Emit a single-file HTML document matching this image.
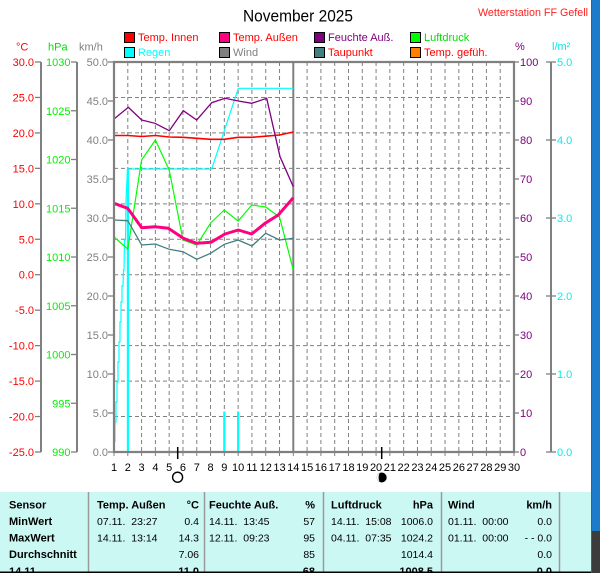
<!DOCTYPE html>
<html><head><meta charset="utf-8"><style>
html,body{margin:0;padding:0;background:#fff;}
svg{display:block;}
text{font-family:"Liberation Sans",Arial,sans-serif;}
</style></head><body>
<svg width="600" height="573" viewBox="0 0 600 573" xmlns="http://www.w3.org/2000/svg">
<rect x="0" y="0" width="600" height="573" fill="#fff"/>

<!-- Title -->
<text x="243" y="21.5" font-size="17" fill="#000" textLength="110" lengthAdjust="spacingAndGlyphs">November 2025</text>
<text x="478" y="16" font-size="11" fill="#ff2020" textLength="110" lengthAdjust="spacingAndGlyphs">Wetterstation FF Gefell</text>

<!-- Legend -->
<g font-size="11">
<rect x="124.5" y="32.5" width="10" height="10" fill="#ff0000" stroke="#000"/>
<text x="138" y="41" fill="#ff0000">Temp. Innen</text>
<rect x="124.5" y="47.5" width="10" height="10" fill="#00ffff" stroke="#000"/>
<text x="138" y="56" fill="#00ffff">Regen</text>
<rect x="219.5" y="32.5" width="10" height="10" fill="#ff0080" stroke="#000"/>
<text x="233" y="41" fill="#ff0000">Temp. Außen</text>
<rect x="219.5" y="47.5" width="10" height="10" fill="#808080" stroke="#000"/>
<text x="233" y="56" fill="#808080">Wind</text>
<rect x="314.5" y="32.5" width="10" height="10" fill="#800080" stroke="#000"/>
<text x="328" y="41" fill="#800080">Feuchte Auß.</text>
<rect x="314.5" y="47.5" width="10" height="10" fill="#408080" stroke="#000"/>
<text x="328" y="56" fill="#ff0000">Taupunkt</text>
<rect x="410.5" y="32.5" width="10" height="10" fill="#00ff00" stroke="#000"/>
<text x="424" y="41" fill="#00e000">Luftdruck</text>
<rect x="410.5" y="47.5" width="10" height="10" fill="#ff8000" stroke="#000"/>
<text x="424" y="56" fill="#ff0000">Temp. gefüh.</text>
</g>

<!-- Axis titles -->
<g font-size="11">
<text x="16" y="50.5" fill="#ff0000">°C</text>
<text x="48" y="50.5" fill="#00e000">hPa</text>
<text x="79" y="50.5" fill="#808080">km/h</text>
<text x="515" y="50" fill="#800080">%</text>
<text x="552" y="50" fill="#00e8e8">l/m²</text>
</g>

<!-- Left axes lines -->
<g stroke="#808080" stroke-width="2" fill="none">
<line x1="41" y1="62" x2="41" y2="452"/>
<line x1="77" y1="62" x2="77" y2="452"/>
<line x1="551" y1="62" x2="551" y2="452"/>
</g>
<g stroke="#808080" stroke-width="1.3">
<line x1="35" y1="62" x2="41" y2="62"/><line x1="35" y1="97.45" x2="41" y2="97.45"/>
<line x1="35" y1="132.91" x2="41" y2="132.91"/><line x1="35" y1="168.36" x2="41" y2="168.36"/>
<line x1="35" y1="203.82" x2="41" y2="203.82"/><line x1="35" y1="239.27" x2="41" y2="239.27"/>
<line x1="35" y1="274.73" x2="41" y2="274.73"/><line x1="35" y1="310.18" x2="41" y2="310.18"/>
<line x1="35" y1="345.64" x2="41" y2="345.64"/><line x1="35" y1="381.09" x2="41" y2="381.09"/>
<line x1="35" y1="416.55" x2="41" y2="416.55"/><line x1="35" y1="452" x2="41" y2="452"/>
<line x1="71" y1="62" x2="77" y2="62"/><line x1="71" y1="110.75" x2="77" y2="110.75"/>
<line x1="71" y1="159.5" x2="77" y2="159.5"/><line x1="71" y1="208.25" x2="77" y2="208.25"/>
<line x1="71" y1="257" x2="77" y2="257"/><line x1="71" y1="305.75" x2="77" y2="305.75"/>
<line x1="71" y1="354.5" x2="77" y2="354.5"/><line x1="71" y1="403.25" x2="77" y2="403.25"/>
<line x1="71" y1="452" x2="77" y2="452"/>
<line x1="108" y1="62" x2="114" y2="62"/><line x1="108" y1="101" x2="114" y2="101"/>
<line x1="108" y1="140" x2="114" y2="140"/><line x1="108" y1="179" x2="114" y2="179"/>
<line x1="108" y1="218" x2="114" y2="218"/><line x1="108" y1="257" x2="114" y2="257"/>
<line x1="108" y1="296" x2="114" y2="296"/><line x1="108" y1="335" x2="114" y2="335"/>
<line x1="108" y1="374" x2="114" y2="374"/><line x1="108" y1="413" x2="114" y2="413"/>
<line x1="108" y1="452" x2="114" y2="452"/>
<line x1="514" y1="62" x2="519" y2="62"/><line x1="514" y1="101" x2="519" y2="101"/>
<line x1="514" y1="140" x2="519" y2="140"/><line x1="514" y1="179" x2="519" y2="179"/>
<line x1="514" y1="218" x2="519" y2="218"/><line x1="514" y1="257" x2="519" y2="257"/>
<line x1="514" y1="296" x2="519" y2="296"/><line x1="514" y1="335" x2="519" y2="335"/>
<line x1="514" y1="374" x2="519" y2="374"/><line x1="514" y1="413" x2="519" y2="413"/>
<line x1="514" y1="452" x2="519" y2="452"/>
<line x1="546" y1="62" x2="556" y2="62"/><line x1="546" y1="140" x2="556" y2="140"/>
<line x1="546" y1="218" x2="556" y2="218"/><line x1="546" y1="296" x2="556" y2="296"/>
<line x1="546" y1="374" x2="556" y2="374"/><line x1="546" y1="452" x2="556" y2="452"/>
</g>

<!-- Left axis labels -->
<g font-size="11" fill="#ff0000" text-anchor="end">
<text x="34" y="66">30.0</text><text x="34" y="101.5">25.0</text><text x="34" y="137">20.0</text>
<text x="34" y="172.4">15.0</text><text x="34" y="207.8">10.0</text><text x="34" y="243.3">5.0</text>
<text x="34" y="278.7">0.0</text><text x="34" y="314.2">-5.0</text><text x="34" y="349.6">-10.0</text>
<text x="34" y="385.1">-15.0</text><text x="34" y="420.5">-20.0</text><text x="34" y="456">-25.0</text>
</g>
<g font-size="11" fill="#00f000" text-anchor="end">
<text x="70.5" y="66">1030</text><text x="70.5" y="114.8">1025</text><text x="70.5" y="163.5">1020</text>
<text x="70.5" y="212.3">1015</text><text x="70.5" y="261">1010</text><text x="70.5" y="309.8">1005</text>
<text x="70.5" y="358.5">1000</text><text x="70.5" y="407.3">995</text><text x="70.5" y="456">990</text>
</g>
<g font-size="11" fill="#808080" text-anchor="end">
<text x="108" y="66">50.0</text><text x="108" y="105">45.0</text><text x="108" y="144">40.0</text>
<text x="108" y="183">35.0</text><text x="108" y="222">30.0</text><text x="108" y="261">25.0</text>
<text x="108" y="300">20.0</text><text x="108" y="339">15.0</text><text x="108" y="378">10.0</text>
<text x="108" y="417">5.0</text><text x="108" y="456">0.0</text>
</g>
<g font-size="11" fill="#800080">
<text x="520" y="66">100</text><text x="520" y="105">90</text><text x="520" y="144">80</text>
<text x="520" y="183">70</text><text x="520" y="222">60</text><text x="520" y="261">50</text>
<text x="520" y="300">40</text><text x="520" y="339">30</text><text x="520" y="378">20</text>
<text x="520" y="417">10</text><text x="520" y="456">0</text>
</g>
<g font-size="11" fill="#00f0f0">
<text x="557" y="66">5.0</text><text x="557" y="144">4.0</text><text x="557" y="222">3.0</text>
<text x="557" y="300">2.0</text><text x="557" y="378">1.0</text><text x="557" y="456">0.0</text>
</g>

<!-- Grid -->
<g stroke="#808080" stroke-width="1" stroke-dasharray="4,3" fill="none">
<line x1="114" y1="97.45" x2="514" y2="97.45"/><line x1="114" y1="132.91" x2="514" y2="132.91"/>
<line x1="114" y1="168.36" x2="514" y2="168.36"/><line x1="114" y1="203.82" x2="514" y2="203.82"/>
<line x1="114" y1="239.27" x2="514" y2="239.27"/><line x1="114" y1="274.73" x2="514" y2="274.73"/>
<line x1="114" y1="310.18" x2="514" y2="310.18"/><line x1="114" y1="345.64" x2="514" y2="345.64"/>
<line x1="114" y1="381.09" x2="514" y2="381.09"/><line x1="114" y1="416.55" x2="514" y2="416.55"/>
<line x1="127.79" y1="62" x2="127.79" y2="452"/><line x1="141.59" y1="62" x2="141.59" y2="452"/>
<line x1="155.38" y1="62" x2="155.38" y2="452"/><line x1="169.17" y1="62" x2="169.17" y2="452"/>
<line x1="182.97" y1="62" x2="182.97" y2="452"/><line x1="196.76" y1="62" x2="196.76" y2="452"/>
<line x1="210.55" y1="62" x2="210.55" y2="452"/><line x1="224.34" y1="62" x2="224.34" y2="452"/>
<line x1="238.14" y1="62" x2="238.14" y2="452"/><line x1="251.93" y1="62" x2="251.93" y2="452"/>
<line x1="265.72" y1="62" x2="265.72" y2="452"/><line x1="279.52" y1="62" x2="279.52" y2="452"/>
<line x1="307.10" y1="62" x2="307.10" y2="452"/><line x1="320.90" y1="62" x2="320.90" y2="452"/>
<line x1="334.69" y1="62" x2="334.69" y2="452"/><line x1="348.48" y1="62" x2="348.48" y2="452"/>
<line x1="362.28" y1="62" x2="362.28" y2="452"/><line x1="376.07" y1="62" x2="376.07" y2="452"/>
<line x1="389.86" y1="62" x2="389.86" y2="452"/><line x1="403.66" y1="62" x2="403.66" y2="452"/>
<line x1="417.45" y1="62" x2="417.45" y2="452"/><line x1="431.24" y1="62" x2="431.24" y2="452"/>
<line x1="445.03" y1="62" x2="445.03" y2="452"/><line x1="458.83" y1="62" x2="458.83" y2="452"/>
<line x1="472.62" y1="62" x2="472.62" y2="452"/><line x1="486.41" y1="62" x2="486.41" y2="452"/>
<line x1="500.21" y1="62" x2="500.21" y2="452"/>
</g>
<line x1="293.3" y1="62" x2="293.3" y2="452" stroke="#808080" stroke-width="2"/>

<!-- Rain bars -->
<g fill="#00ffff">
<rect x="126.8" y="169" width="2.2" height="283"/>
<rect x="223.2" y="411.5" width="2.2" height="40.5"/>
<rect x="237" y="411.5" width="2.2" height="40.5"/>
</g>
<polyline fill="none" stroke="#00ffff" stroke-width="1.2" points="114,452 114.3,441 115,441 115,422 116,422 116,402 117,402 117,382 118,382 118,362 119,362 119,342 120,342 120,322 121,322 121,302 122,302 122,286 123,286 123.5,270 124,270 124.5,240 125.5,240 126,200 127.5,169 211.7,169 238.3,88.3 293.3,88.3"/>

<polyline fill="none" stroke="#00ff00" stroke-width="1.2" points="114,237 127.8,249 141.6,160 155.4,140 169.2,170 183,240 196.8,245 210.6,223 224.3,210 238.1,221 251.9,205 265.7,207 279.5,217 293.3,270"/>
<polyline fill="none" stroke="#408080" stroke-width="1.3" points="114,220 127.8,220.7 141.6,245 155.4,244 169.2,249.3 183,251.7 196.8,259.3 210.6,253.3 224.3,244.3 238.1,240 251.9,246 265.7,233.3 279.5,240 293.3,238.3"/>
<polyline fill="none" stroke="#ff0000" stroke-width="1.6" points="114,135.5 127.8,135.5 141.6,136.5 155.4,135.5 169.2,137 183,137.3 196.8,138.3 210.6,139.3 224.3,139.3 238.1,137.3 251.9,137.3 265.7,136.2 279.5,135 293.3,132"/>
<polyline fill="none" stroke="#800080" stroke-width="1.3" points="114,119 128.3,107.3 141.7,120 155,123.3 169.3,130.7 183.3,110.7 196.7,120 211.7,102.7 225,98.3 238.3,101 251.7,103.3 266.7,98.3 280,156.7 293.3,186.7"/>
<polyline fill="none" stroke="#ff0080" stroke-width="3" stroke-linejoin="round" points="114,203.3 127.7,208.3 141.7,227.7 155,226.7 168.3,228.3 183.3,238.3 196.7,243.3 211,242.3 225,234 238.3,230 251.7,234 265,223.3 278.3,215 293.3,197.7"/>

<!-- Plot border -->
<g stroke="#808080" stroke-width="2.2" fill="none">
<line x1="114" y1="61" x2="114" y2="453"/>
<line x1="113" y1="62" x2="515" y2="62"/>
<line x1="514" y1="61" x2="514" y2="453"/>
<line x1="113" y1="452" x2="515" y2="452"/>
</g>
<g stroke="#808080" stroke-width="1">
<line x1="114" y1="452" x2="114" y2="456"/><line x1="127.79" y1="452" x2="127.79" y2="456"/>
<line x1="141.59" y1="452" x2="141.59" y2="456"/><line x1="155.38" y1="452" x2="155.38" y2="456"/>
<line x1="169.17" y1="452" x2="169.17" y2="456"/><line x1="182.97" y1="452" x2="182.97" y2="456"/>
<line x1="196.76" y1="452" x2="196.76" y2="456"/><line x1="210.55" y1="452" x2="210.55" y2="456"/>
<line x1="224.34" y1="452" x2="224.34" y2="456"/><line x1="238.14" y1="452" x2="238.14" y2="456"/>
<line x1="251.93" y1="452" x2="251.93" y2="456"/><line x1="265.72" y1="452" x2="265.72" y2="456"/>
<line x1="279.52" y1="452" x2="279.52" y2="456"/><line x1="293.31" y1="452" x2="293.31" y2="456"/>
<line x1="307.10" y1="452" x2="307.10" y2="456"/><line x1="320.90" y1="452" x2="320.90" y2="456"/>
<line x1="334.69" y1="452" x2="334.69" y2="456"/><line x1="348.48" y1="452" x2="348.48" y2="456"/>
<line x1="362.28" y1="452" x2="362.28" y2="456"/><line x1="376.07" y1="452" x2="376.07" y2="456"/>
<line x1="389.86" y1="452" x2="389.86" y2="456"/><line x1="403.66" y1="452" x2="403.66" y2="456"/>
<line x1="417.45" y1="452" x2="417.45" y2="456"/><line x1="431.24" y1="452" x2="431.24" y2="456"/>
<line x1="445.03" y1="452" x2="445.03" y2="456"/><line x1="458.83" y1="452" x2="458.83" y2="456"/>
<line x1="472.62" y1="452" x2="472.62" y2="456"/><line x1="486.41" y1="452" x2="486.41" y2="456"/>
<line x1="500.21" y1="452" x2="500.21" y2="456"/><line x1="514" y1="452" x2="514" y2="456"/>
</g>

<!-- Moon markers -->
<line x1="177.7" y1="447" x2="177.7" y2="459" stroke="#000" stroke-width="1.5"/>
<circle cx="177.6" cy="477.2" r="5" fill="none" stroke="#000" stroke-width="1.4"/>
<line x1="381.7" y1="447" x2="381.7" y2="459" stroke="#000" stroke-width="1.5"/>
<circle cx="381.7" cy="477.5" r="5" fill="#000"/>
<path d="M380.2,473.2 A4.4,4.4 0 0 0 380.2,481.8 A1.6,4.3 0 0 1 380.2,473.2 Z" fill="#fff"/>

<!-- X labels -->
<g font-size="11" fill="#000" text-anchor="middle">
<text x="114" y="471">1</text><text x="127.79" y="471">2</text><text x="141.59" y="471">3</text>
<text x="155.38" y="471">4</text><text x="169.17" y="471">5</text><text x="182.97" y="471">6</text>
<text x="196.76" y="471">7</text><text x="210.55" y="471">8</text><text x="224.34" y="471">9</text>
<text x="238.14" y="471">10</text><text x="251.93" y="471">11</text><text x="265.72" y="471">12</text>
<text x="279.52" y="471">13</text><text x="293.31" y="471">14</text><text x="307.10" y="471">15</text>
<text x="320.90" y="471">16</text><text x="334.69" y="471">17</text><text x="348.48" y="471">18</text>
<text x="362.28" y="471">19</text><text x="376.07" y="471">20</text><text x="389.86" y="471">21</text>
<text x="403.66" y="471">22</text><text x="417.45" y="471">23</text><text x="431.24" y="471">24</text>
<text x="445.03" y="471">25</text><text x="458.83" y="471">26</text><text x="472.62" y="471">27</text>
<text x="486.41" y="471">28</text><text x="500.21" y="471">29</text><text x="514" y="471">30</text>
</g>

<!-- Table -->
<rect x="0" y="492" width="592" height="81" fill="#ccf8f4"/>
<g stroke="#9a9a9a" stroke-width="1.5">
<line x1="88.5" y1="492" x2="88.5" y2="572"/>
<line x1="204.5" y1="492" x2="204.5" y2="572"/>
<line x1="323.5" y1="492" x2="323.5" y2="572"/>
<line x1="441.5" y1="492" x2="441.5" y2="572"/>
<line x1="559.5" y1="492" x2="559.5" y2="572"/>
</g>
<g font-size="11" font-weight="bold" fill="#000">
<text x="9" y="508.5">Sensor</text>
<text x="9" y="525">MinWert</text>
<text x="9" y="541.7">MaxWert</text>
<text x="9" y="558">Durchschnitt</text>
<text x="9" y="575">14.11</text>
<text x="97" y="508.5">Temp. Außen</text>
<text x="199" y="508.5" text-anchor="end">°C</text>
<text x="209" y="508.5">Feuchte Auß.</text>
<text x="315" y="508.5" text-anchor="end">%</text>
<text x="331" y="508.5">Luftdruck</text>
<text x="433" y="508.5" text-anchor="end">hPa</text>
<text x="448" y="508.5">Wind</text>
<text x="552" y="508.5" text-anchor="end">km/h</text>
<text x="199" y="575" text-anchor="end">11.0</text>
<text x="315" y="575" text-anchor="end">68</text>
<text x="433" y="575" text-anchor="end">1008.5</text>
<text x="552" y="575" text-anchor="end">0.0</text>
</g>
<g font-size="10.5" fill="#000" style="white-space:pre">
<text x="97" y="525" xml:space="preserve">07.11.  23:27</text>
<text x="199" y="525" text-anchor="end">0.4</text>
<text x="97" y="541.7" xml:space="preserve">14.11.  13:14</text>
<text x="199" y="541.7" text-anchor="end">14.3</text>
<text x="199" y="558" text-anchor="end">7.06</text>
<text x="209" y="525" xml:space="preserve">14.11.  13:45</text>
<text x="315" y="525" text-anchor="end">57</text>
<text x="209" y="541.7" xml:space="preserve">12.11.  09:23</text>
<text x="315" y="541.7" text-anchor="end">95</text>
<text x="315" y="558" text-anchor="end">85</text>
<text x="331" y="525" xml:space="preserve">14.11.  15:08</text>
<text x="433" y="525" text-anchor="end">1006.0</text>
<text x="331" y="541.7" xml:space="preserve">04.11.  07:35</text>
<text x="433" y="541.7" text-anchor="end">1024.2</text>
<text x="433" y="558" text-anchor="end">1014.4</text>
<text x="448" y="525" xml:space="preserve">01.11.  00:00</text>
<text x="552" y="525" text-anchor="end">0.0</text>
<text x="448" y="541.7" xml:space="preserve">01.11.  00:00</text>
<text x="552" y="541.7" text-anchor="end" xml:space="preserve">- - 0.0</text>
<text x="552" y="558" text-anchor="end">0.0</text>
</g>
<rect x="0" y="571.5" width="592" height="1.5" fill="#000"/>

<!-- Right blue bar -->
<rect x="592" y="0" width="8" height="531" fill="#1d7bcc"/>
<rect x="591" y="0" width="1" height="573" fill="#3d5f80"/>
<rect x="592" y="531" width="8" height="42" fill="#3c3c3c"/>
</svg>
</body></html>
